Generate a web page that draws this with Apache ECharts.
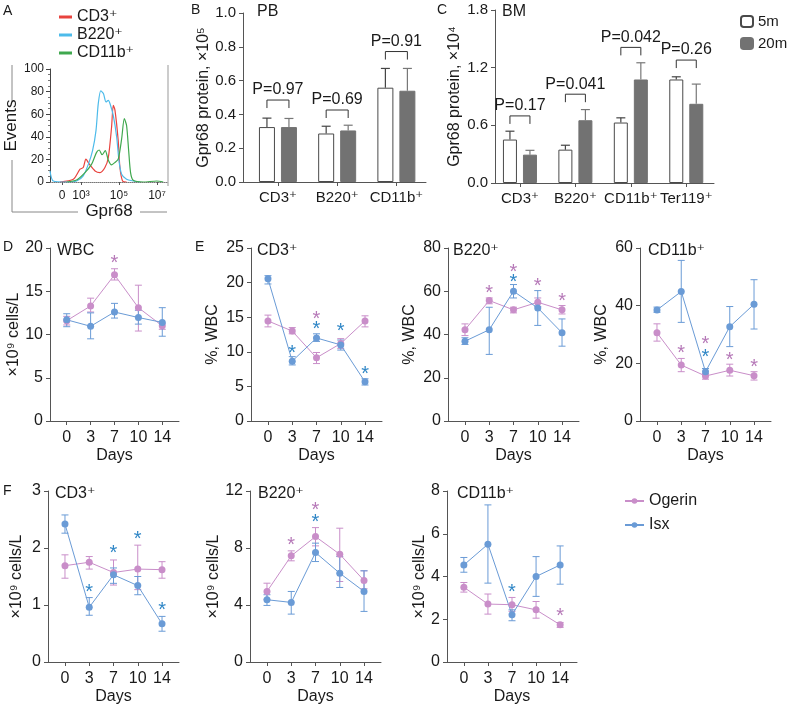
<!DOCTYPE html>
<html><head><meta charset="utf-8">
<script src="https://cdn.jsdelivr.net/npm/echarts@6/dist/echarts.min.js"></script>
<style>html,body{margin:0;padding:0;background:#fff}#c{width:796px;height:713px}</style>
</head><body><div id="c"></div><script>
const FONT = 'Liberation Sans, Arial, DejaVu Sans, sans-serif';
const TXT = '#1a1a1a', AX = '#555';
const PINK = '#c98ec9', BLUE = '#6a9bd6', PINK_STAR = '#b679b8', BLUE_STAR = '#2f86c6';

// ---------- Panel A: histogram (x in log10 display units, y = events) ----------
const histTicks = [2, 3, 5, 7];
const histTickLabels = ['0', '10³', '10⁵', '10⁷'];
const histCD3 = [[1.89,0],[2.60,2.4],[2.95,11.3],[3.12,12.8],[3.26,20.2],[3.44,15.8],[3.74,9.8],[4.0,8.3],[4.26,12.8],[4.44,21.7],[4.61,48.5],[4.70,67.9],[4.79,63.4],[4.96,36.6],[5.05,12.8],[5.19,0.9],[5.40,0]];
const histB220 = [[1.37,9.8],[1.54,0.9],[2.25,0],[2.77,0.9],[3.12,5.4],[3.39,15.8],[3.61,27.7],[3.79,45.5],[3.91,69.3],[4.04,80.7],[4.18,78.3],[4.32,70.8],[4.44,72.3],[4.53,69.3],[4.70,58.9],[4.88,39.6],[5.0,18.8],[5.14,6.8],[5.40,2.4],[5.75,0.9],[6.11,0]];
const histCD11b = [[2.25,0],[2.77,1.8],[3.21,8.3],[3.56,15.8],[3.82,26.2],[3.96,28.3],[4.11,24.1],[4.28,27.7],[4.44,19.3],[4.61,15.2],[4.79,17.3],[4.96,20.2],[5.14,38.1],[5.28,56.0],[5.40,50.0],[5.51,27.7],[5.61,8.3],[5.75,1.5],[6.28,0],[6.98,0.9],[7.33,0]];

// ---------- Panel B: PB ----------
const pbCats = ['CD3⁺', 'B220⁺', 'CD11b⁺'];
const pb5m = [0.325, 0.287, 0.558];
const pb5mErr = [0.378, 0.330, 0.672];
const pb20m = [0.325, 0.305, 0.540];
const pb20mErr = [0.376, 0.336, 0.672];
const pbP = ['P=0.97', 'P=0.69', 'P=0.91'];
const pbBracket = [0.485, 0.426, 0.772];

// ---------- Panel C: BM ----------
const bmCats = ['CD3⁺', 'B220⁺', 'CD11b⁺', 'Ter119⁺'];
const bm5m = [0.452, 0.347, 0.629, 1.077];
const bm5mErr = [0.539, 0.393, 0.678, 1.105];
const bm20m = [0.295, 0.653, 1.077, 0.824];
const bm20mErr = [0.340, 0.764, 1.251, 1.029];
const bmP = ['P=0.17', 'P=0.041', 'P=0.042', 'P=0.26'];
const bmBracket = [0.698, 0.924, 1.411, 1.279];

// ---------- Panels D-F ----------
const days = ['0', '3', '7', '10', '14'];
// D WBC
const wbcOg = [11.6, 13.3, 16.9, 13.1, 11.0], wbcOgLo = [11.1, 12.6, 16.3, 10.4, 10.6], wbcOgHi = [12.1, 14.2, 17.6, 15.7, 11.3];
const wbcIsx = [11.7, 10.95, 12.6, 11.96, 11.4], wbcIsxLo = [10.9, 9.5, 11.9, 11.2, 9.8], wbcIsxHi = [12.4, 12.5, 13.6, 12.8, 13.1];
const wbcOgStar = [null, null, 18.8, null, null], wbcIsxStar = [null, null, null, null, null];
// E CD3 %
const cd3pOg = [14.46, 13.0, 9.14, 11.2, 14.46], cd3pOgLo = [13.6, 12.6, 8.3, 10.5, 13.6], cd3pOgHi = [15.3, 13.5, 9.9, 11.9, 15.2];
const cd3pIsx = [20.55, 8.65, 12.0, 11.0, 5.66], cd3pIsxLo = [19.8, 8.1, 11.5, 10.25, 5.2], cd3pIsxHi = [21.0, 9.3, 12.6, 11.7, 6.1];
const cd3pOgStar = [null, null, 15.4, null, null], cd3pIsxStar = [null, 10.5, 13.9, 13.6, 7.45];
// E B220 %
const b220pOg = [42.2, 55.7, 51.4, 54.9, 51.4], b220pOgLo = [39.5, 54.2, 50.0, 52.9, 49.5], b220pOgHi = [44.9, 56.9, 52.6, 56.9, 53.4];
const b220pIsx = [36.9, 42.2, 60.0, 52.3, 40.8], b220pIsxLo = [35.4, 30.8, 56.9, 44.2, 34.6], b220pIsxHi = [38.5, 52.6, 63.1, 60.3, 47.2];
const b220pOgStar = [null, 61.4, 71.0, 64.6, 57.5], b220pIsxStar = [null, null, 66.5, null, null];
// E CD11b %
const cd11pOg = [30.6, 19.4, 15.6, 17.6, 15.7], cd11pOgLo = [27.7, 17.1, 14.5, 15.6, 14.2], cd11pOgHi = [33.7, 21.7, 16.5, 19.7, 17.1];
const cd11pIsx = [38.5, 44.9, 17.1, 32.7, 40.5], cd11pIsxLo = [37.7, 34.2, 15.9, 25.8, 31.9], cd11pIsxHi = [39.5, 55.7, 18.2, 39.7, 49.0];
const cd11pOgStar = [null, 25.2, 28.1, 22.6, 20.2], cd11pIsxStar = [null, null, 23.7, null, null];
// F CD3 counts
const cd3cOg = [1.69, 1.75, 1.57, 1.63, 1.62], cd3cOgLo = [1.47, 1.63, 1.35, 1.27, 1.47], cd3cOgHi = [1.88, 1.85, 1.79, 2.05, 1.76];
const cd3cIsx = [2.42, 0.96, 1.53, 1.34, 0.67], cd3cIsxLo = [2.26, 0.82, 1.38, 1.18, 0.54], cd3cIsxHi = [2.58, 1.13, 1.65, 1.5, 0.8];
const cd3cOgStar = [null, null, null, null, null], cd3cIsxStar = [null, 1.31, 2.0, 2.24, 0.99];
// F B220 counts
const b220cOg = [4.95, 7.45, 8.8, 7.56, 5.72], b220cOgLo = [4.37, 7.1, 8.15, 5.65, 5.14], b220cOgHi = [5.53, 7.8, 9.43, 9.39, 6.4];
const b220cIsx = [4.37, 4.18, 7.68, 6.23, 4.95], b220cIsxLo = [3.97, 3.36, 7.05, 5.23, 3.55], b220cIsxHi = [4.72, 4.95, 8.34, 7.4, 6.4];
const b220cOgStar = [null, 8.5, 10.97, null, null], b220cIsxStar = [null, null, 10.13, null, null];
// F CD11b counts
const cd11cOg = [3.5, 2.71, 2.68, 2.44, 1.74], cd11cOgLo = [3.27, 2.24, 2.37, 2.05, 1.62], cd11cOgHi = [3.72, 3.18, 3.02, 2.83, 1.85];
const cd11cIsx = [4.54, 5.51, 2.21, 4.0, 4.54], cd11cIsxLo = [4.2, 3.69, 1.93, 3.07, 3.64], cd11cIsxHi = [4.89, 7.35, 2.44, 4.93, 5.43];
const cd11cOgStar = [null, null, null, null, 2.37], cd11cIsxStar = [null, null, 3.49, null, null];

// ================= build =================
const grid = [], xAxis = [], yAxis = [], series = [], title = [];

function txt(size, extra) { return Object.assign({ fontFamily: FONT, fontSize: size, color: TXT }, extra || {}); }
function addTitle(text, left, top, size) {
  title.push({ text, left, top, padding: 0, textStyle: txt(size || 16, { fontWeight: 'normal' }) });
}

// Panel A
grid.push({ left: 50, top: 69, width: 118, height: 113 });
xAxis.push({ gridIndex: 0, type: 'value', min: 1.37, max: 7.58,
  axisLine: { show: true, onZero: false, lineStyle: { color: '#777', type: 'dotted' } },
  axisTick: { show: true, customValues: histTicks, length: 3, lineStyle: { color: '#555' } },
  axisLabel: { customValues: histTicks, formatter: v => histTickLabels[histTicks.indexOf(v)], margin: 8, ...txt(12) },
  splitLine: { show: false },
  name: 'Gpr68', nameLocation: 'middle', nameGap: 20, nameTextStyle: txt(17) });
yAxis.push({ gridIndex: 0, type: 'value', min: 0, max: 100, interval: 20,
  axisLine: { show: true, onZero: false, lineStyle: { color: '#444' } },
  axisTick: { show: true, length: 4, lineStyle: { color: '#444' } },
  minorTick: { show: true, splitNumber: 4, length: 2, lineStyle: { color: '#777' } },
  axisLabel: { margin: 6, ...txt(12) }, splitLine: { show: false },
  name: 'Events', nameLocation: 'middle', nameGap: 29, nameTextStyle: txt(17) });
[['CD3⁺', histCD3, '#e8433e'], ['B220⁺', histB220, '#4dbbea'], ['CD11b⁺', histCD11b, '#3fa84e']].forEach(([n, d, c]) => {
  series.push({ type: 'line', name: n, xAxisIndex: 0, yAxisIndex: 0, data: d, smooth: 0.25, showSymbol: false,
    lineStyle: { color: c, width: 1.2 }, itemStyle: { color: c } });
});

// bar panels helper
function barPanel(gi, box, xmin, xmax, ymax, yint, cats, yname, nameGap) {
  grid.push(box);
  xAxis.push({ gridIndex: gi, type: 'value', min: xmin, max: xmax,
    axisLine: { show: true, onZero: false, lineStyle: { color: AX } },
    axisTick: { show: true, customValues: cats.map((c, i) => i), length: 4, lineStyle: { color: AX } },
    axisLabel: { customValues: cats.map((c, i) => i), formatter: v => cats[v], margin: 8, ...txt(15) },
    splitLine: { show: false } });
  yAxis.push({ gridIndex: gi, type: 'value', min: 0, max: ymax, interval: yint,
    axisLine: { show: true, onZero: false, lineStyle: { color: AX } },
    axisTick: { show: true, length: 4, lineStyle: { color: AX } },
    axisLabel: { formatter: v => v.toFixed(1), margin: 7, ...txt(15) }, splitLine: { show: false },
    name: yname, nameLocation: 'middle', nameGap, nameTextStyle: txt(16) });
}
function barSeries(gi, name, vals, style, width, gap) {
  return { type: 'bar', name, xAxisIndex: gi, yAxisIndex: gi, data: vals.map((v, i) => [i, v]),
    barWidth: width, barGap: gap, itemStyle: style, z: 2 };
}
function barErr(gi, vals, errs, offset, color) {
  return { type: 'custom', xAxisIndex: gi, yAxisIndex: gi, silent: true, z: 1,
    data: vals.map((v, i) => [i, v, errs[i]]), encode: { x: 0, y: [1, 2] },
    renderItem(params, api) {
      const b = api.coord([api.value(0), api.value(1)]), t = api.coord([api.value(0), api.value(2)]);
      const x = b[0] + offset;
      return { type: 'group', children: [
        { type: 'line', shape: { x1: x, y1: b[1], x2: x, y2: t[1] }, style: { stroke: color, lineWidth: 1.2 } },
        { type: 'line', shape: { x1: x - 4.5, y1: t[1], x2: x + 4.5, y2: t[1] }, style: { stroke: color, lineWidth: 1.2 } }] };
    } };
}
function bracket(gi, ys, labels, half) {
  return { type: 'custom', xAxisIndex: gi, yAxisIndex: gi, silent: true, z: 3,
    data: ys.map((y, i) => [i, y]), encode: { x: 0, y: 1 },
    renderItem(params, api) {
      const p = api.coord([api.value(0), api.value(1)]);
      return { type: 'group', children: [
        { type: 'polyline', shape: { points: [[p[0] - half, p[1] + 8], [p[0] - half, p[1]], [p[0] + half, p[1]], [p[0] + half, p[1] + 8]] },
          style: { stroke: '#333', fill: null, lineWidth: 1 } },
        { type: 'text', style: { text: labels[params.dataIndex], x: p[0], y: p[1] - 2, align: 'center', verticalAlign: 'bottom',
          font: '16px ' + FONT, fill: TXT } }] };
    } };
}
const WHITE_BAR = { color: '#ffffff', borderColor: '#4a4a4a', borderWidth: 1 };
const GRAY_BAR = { color: '#727272', borderColor: '#727272', borderWidth: 1 };

// Panel B
barPanel(1, { left: 243, top: 13, width: 183, height: 169 }, -0.59, 2.5, 1.0, 0.2, pbCats, 'Gpr68 protein, ×10⁵', 29);
series.push(barSeries(1, '5m', pb5m, WHITE_BAR, 16, '37.5%'));
series.push(barSeries(1, '20m', pb20m, GRAY_BAR, 16, '37.5%'));
series.push(barErr(1, pb5m, pb5mErr, -11, '#444'));
series.push(barErr(1, pb20m, pb20mErr, 11, '#777'));
series.push(bracket(1, pbBracket, pbP, 11));

// Panel C
barPanel(2, { left: 495, top: 10, width: 219, height: 173 }, -0.45, 3.5, 1.8, 0.6, bmCats, 'Gpr68 protein, ×10⁴', 32);
series.push(barSeries(2, '5m', bm5m, WHITE_BAR, 14, '43%'));
series.push(barSeries(2, '20m', bm20m, GRAY_BAR, 14, '43%'));
series.push(barErr(2, bm5m, bm5mErr, -10, '#444'));
series.push(barErr(2, bm20m, bm20mErr, 10, '#777'));
series.push(bracket(2, bmBracket, bmP, 10));

// line panels
function errSeries(gi, lo, hi, color) {
  return { type: 'custom', xAxisIndex: gi, yAxisIndex: gi, silent: true, z: 2,
    data: lo.map((l, i) => [i, l, hi[i]]), encode: { x: 0, y: [1, 2] },
    renderItem(params, api) {
      const p1 = api.coord([api.value(0), api.value(1)]), p2 = api.coord([api.value(0), api.value(2)]);
      const w = 3.5, x = p1[0];
      return { type: 'group', children: [
        { type: 'line', shape: { x1: x, y1: p1[1], x2: x, y2: p2[1] }, style: { stroke: color, lineWidth: 1 } },
        { type: 'line', shape: { x1: x - w, y1: p1[1], x2: x + w, y2: p1[1] }, style: { stroke: color, lineWidth: 1 } },
        { type: 'line', shape: { x1: x - w, y1: p2[1], x2: x + w, y2: p2[1] }, style: { stroke: color, lineWidth: 1 } }] };
    } };
}
function starSeries(gi, stars, color) {
  const data = [];
  stars.forEach((s, i) => { if (s != null) data.push([i, s]); });
  return { type: 'custom', xAxisIndex: gi, yAxisIndex: gi, silent: true, z: 5, data, encode: { x: 0, y: 1 },
    renderItem(params, api) {
      const p = api.coord([api.value(0), api.value(1)]);
      return { type: 'text', style: { text: '*', x: p[0], y: p[1] + 5, align: 'center', verticalAlign: 'middle',
        font: '20px ' + FONT, fill: color } };
    } };
}
function lineSeries(gi, name, vals, color) {
  return { type: 'line', name, xAxisIndex: gi, yAxisIndex: gi, data: vals.map((v, i) => [i, v]),
    symbol: 'circle', symbolSize: 7, showSymbol: true, itemStyle: { color }, lineStyle: { color, width: 1 }, z: 3 };
}
function linePanel(gi, box, ymax, yint, yname, nameGap, og, ogLo, ogHi, ogStar, isx, isxLo, isxHi, isxStar) {
  grid.push(box);
  const idx = days.map((d, i) => i);
  xAxis.push({ gridIndex: gi, type: 'value', min: -0.7, max: 4.7,
    axisLine: { show: true, onZero: false, lineStyle: { color: AX } },
    axisTick: { show: true, customValues: idx, length: 4, lineStyle: { color: AX } },
    axisLabel: { customValues: idx, formatter: v => days[v], margin: 9, ...txt(16) },
    splitLine: { show: false },
    name: 'Days', nameLocation: 'middle', nameGap: 27, nameTextStyle: txt(16) });
  yAxis.push({ gridIndex: gi, type: 'value', min: 0, max: ymax, interval: yint,
    axisLine: { show: true, onZero: false, lineStyle: { color: AX } },
    axisTick: { show: true, length: 4, lineStyle: { color: AX } },
    axisLabel: { margin: 7, ...txt(16) }, splitLine: { show: false },
    name: yname, nameLocation: 'middle', nameGap, nameTextStyle: txt(16) });
  series.push(errSeries(gi, ogLo, ogHi, PINK));
  series.push(errSeries(gi, isxLo, isxHi, BLUE));
  series.push(lineSeries(gi, 'Ogerin', og, PINK));
  series.push(lineSeries(gi, 'Isx', isx, BLUE));
  series.push(starSeries(gi, ogStar, PINK_STAR));
  series.push(starSeries(gi, isxStar, BLUE_STAR));
}
const CELLS = '×10⁹ cells/L', PCT = '%, WBC';
const ROW1 = { top: 248, height: 173 }, ROW2 = { top: 491, height: 171 };
linePanel(3, { left: 50, width: 129, ...ROW1 }, 20, 5, CELLS, 24, wbcOg, wbcOgLo, wbcOgHi, wbcOgStar, wbcIsx, wbcIsxLo, wbcIsxHi, wbcIsxStar);
linePanel(4, { left: 251, width: 131, ...ROW1 }, 25, 5, PCT, 30, cd3pOg, cd3pOgLo, cd3pOgHi, cd3pOgStar, cd3pIsx, cd3pIsxLo, cd3pIsxHi, cd3pIsxStar);
linePanel(5, { left: 448, width: 131, ...ROW1 }, 80, 20, PCT, 30, b220pOg, b220pOgLo, b220pOgHi, b220pOgStar, b220pIsx, b220pIsxLo, b220pIsxHi, b220pIsxStar);
linePanel(6, { left: 640, width: 131, ...ROW1 }, 60, 20, PCT, 30, cd11pOg, cd11pOgLo, cd11pOgHi, cd11pOgStar, cd11pIsx, cd11pIsxLo, cd11pIsxHi, cd11pIsxStar);
linePanel(7, { left: 48, width: 131, ...ROW2 }, 3, 1, CELLS, 23, cd3cOg, cd3cOgLo, cd3cOgHi, cd3cOgStar, cd3cIsx, cd3cIsxLo, cd3cIsxHi, cd3cIsxStar);
linePanel(8, { left: 250, width: 131, ...ROW2 }, 12, 4, CELLS, 20, b220cOg, b220cOgLo, b220cOgHi, b220cOgStar, b220cIsx, b220cIsxLo, b220cIsxHi, b220cIsxStar);
linePanel(9, { left: 447, width: 130, ...ROW2 }, 8, 2, CELLS, 19, cd11cOg, cd11cOgLo, cd11cOgHi, cd11cOgStar, cd11cIsx, cd11cIsxLo, cd11cIsxHi, cd11cIsxStar);

// titles & panel letters
addTitle('A', 3, 4, 14); addTitle('B', 191, 3, 14); addTitle('C', 437, 3, 14);
addTitle('D', 3, 240, 14); addTitle('E', 195, 240, 14); addTitle('F', 3, 484, 14);
addTitle('PB', 257, 4); addTitle('BM', 502, 4);
addTitle('WBC', 57, 243); addTitle('CD3⁺', 257, 243); addTitle('B220⁺', 453, 243); addTitle('CD11b⁺', 648, 243);
addTitle('CD3⁺', 55, 486); addTitle('B220⁺', 258, 486); addTitle('CD11b⁺', 457, 486);

const option = {
  animation: false,
  backgroundColor: '#fff',
  title, grid, xAxis, yAxis, series,
  legend: [
    { data: ['CD3⁺', 'B220⁺', 'CD11b⁺'], left: 54, top: 4, orient: 'vertical', icon: 'rect', itemWidth: 13, itemHeight: 3,
      itemGap: 2, textStyle: txt(16), selectedMode: false },
    { data: ['5m', '20m'], left: 735, top: 9, orient: 'vertical', itemWidth: 12, itemHeight: 11, itemGap: 7,
      textStyle: txt(15), selectedMode: false },
    { data: ['Ogerin', 'Isx'], left: 619, top: 488, orient: 'vertical', itemWidth: 19, itemHeight: 7, itemGap: 8,
      textStyle: txt(16), selectedMode: false }
  ],
  graphic: [
    { type: 'line', shape: { x1: 168, y1: 65, x2: 168, y2: 186 }, style: { stroke: '#999', lineWidth: 1 } },
    { type: 'line', shape: { x1: 12, y1: 65, x2: 12, y2: 101 }, style: { stroke: '#888', lineWidth: 1 } },
    { type: 'line', shape: { x1: 12, y1: 160, x2: 12, y2: 212 }, style: { stroke: '#888', lineWidth: 1 } },
    { type: 'line', shape: { x1: 12, y1: 212, x2: 78, y2: 212 }, style: { stroke: '#888', lineWidth: 1 } },
    { type: 'line', shape: { x1: 140, y1: 212, x2: 167, y2: 212 }, style: { stroke: '#888', lineWidth: 1 } }
  ]
};
const chart = echarts.init(document.getElementById('c'), null, { renderer: 'canvas' });
chart.setOption(option);
</script></body></html>
